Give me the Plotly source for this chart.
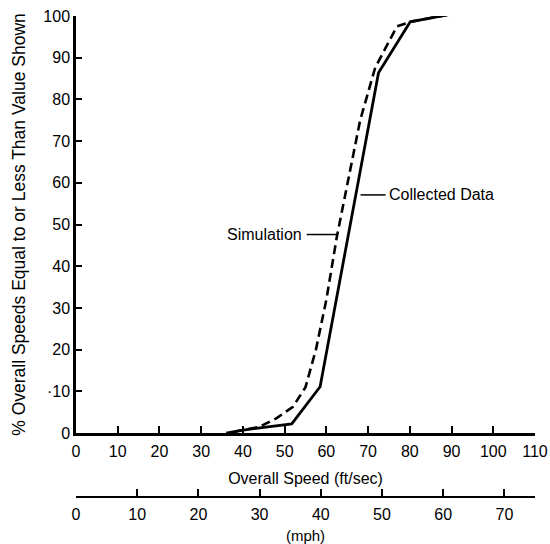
import plotly.graph_objects as go

# Collected data (solid) - overall speed ft/sec vs cumulative %
collected_x = [36, 40, 51.7, 58.5, 72.5, 80.1, 89.7]
collected_y = [0, 0.7, 2.2, 11.1, 86.4, 98.6, 100.4]

# Simulation (dashed)
sim_x = [38, 44, 48, 52, 55, 57.5, 60, 62.5, 65.7, 68.1, 71.7, 76.9, 80.1, 89.7]
sim_y = [0.3, 1.5, 3.5, 6.3, 11, 20, 32, 47, 63, 75, 87.6, 97.5, 98.6, 100.4]

ft_ticks = [0, 10, 20, 30, 40, 50, 60, 70, 80, 90, 100, 110]
y_ticks = [0, 10, 20, 30, 40, 50, 60, 70, 80, 90, 100]
y_ticklabels = ["0", "\u00b710", "20", "30", "40", "50", "60", "70", "80", "90", "100"]
mph_ticks = [0, 10, 20, 30, 40, 50, 60, 70]

FONT = "Liberation Sans"

fig = go.Figure()
fig.add_trace(go.Scatter(x=collected_x, y=collected_y, mode="lines",
                         line=dict(color="black", width=2.8), showlegend=False))
fig.add_trace(go.Scatter(x=sim_x, y=sim_y, mode="lines",
                         line=dict(color="black", width=2.6, dash="9px,5px"), showlegend=False))
# invisible trace for mph axis
fig.add_trace(go.Scatter(x=[0, 75], y=[None, None], xaxis="x2", yaxis="y",
                         mode="lines", showlegend=False, hoverinfo="skip"))

fig.update_layout(
    width=550, height=544,
    margin=dict(l=76, r=15, t=16, b=47),
    paper_bgcolor="white", plot_bgcolor="white",
    font=dict(family=FONT, size=16, color="black"),
    xaxis=dict(range=[0, 110], tickvals=ft_ticks, ticks="inside", ticklen=7,
               tickwidth=2, tickcolor="black", showline=True, linecolor="black",
               linewidth=2.5, showgrid=False, zeroline=False, anchor="y",
               automargin=False, ticklabelstandoff=2,
               title=dict(text="Overall Speed (ft/sec)", standoff=14,
                          font=dict(size=16)),
               tickfont=dict(size=16)),
    yaxis=dict(range=[0, 100], domain=[0.133, 1], tickvals=y_ticks,
               ticktext=y_ticklabels, ticks="inside", ticklen=6, tickwidth=2,
               tickcolor="black", showline=True, linecolor="black", linewidth=2.5,
               showgrid=False, zeroline=False, automargin=False,
               title=dict(text="% Overall Speeds Equal to or Less Than Value Shown",
                          standoff=14, font=dict(size=17.5)),
               tickfont=dict(size=16)),
    xaxis2=dict(range=[0, 75], tickvals=mph_ticks, ticks="inside", ticklen=7,
                tickwidth=2, tickcolor="black", showline=True, linecolor="black",
                linewidth=2, showgrid=False, zeroline=False, anchor="free",
                position=0, overlaying="x", side="bottom", automargin=False,
                ticklabelstandoff=3,
                title=dict(text="(mph)", standoff=12, font=dict(size=15)),
                tickfont=dict(size=16)),
)

fig.add_shape(type="line", x0=68.2, x1=74.2, y0=57.1, y1=57.1,
              line=dict(color="black", width=1.5), xref="x", yref="y")
fig.add_shape(type="line", x0=55.3, x1=62.6, y0=47.6, y1=47.6,
              line=dict(color="black", width=1.5), xref="x", yref="y")
fig.add_annotation(x=74.6, y=57.1, text="Collected Data", showarrow=False,
                   xanchor="left", yanchor="middle", font=dict(size=16))
fig.add_annotation(x=54.6, y=47.6, text="Simulation", showarrow=False,
                   xanchor="right", yanchor="middle", font=dict(size=16))

fig.write_html("out.html")
